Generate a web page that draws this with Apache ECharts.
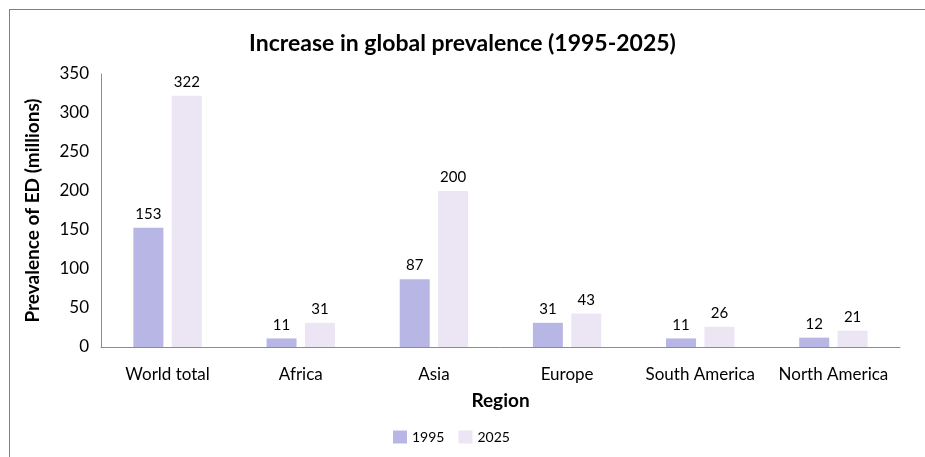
<!DOCTYPE html>
<html>
<head>
<meta charset="utf-8">
<script src="https://cdn.jsdelivr.net/npm/echarts@6/dist/echarts.min.js"></script>
<style>
  html, body { margin: 0; padding: 0; background: #fff; }
  .frame { position: absolute; left: 9px; top: 9px; width: 930px; height: 460px; border-left: 1.5px solid #7f7f7f; border-top: 1.5px solid #7f7f7f; }
  .chart { position: absolute; left: 0; top: 0; width: 925px; height: 457px; }
</style>
</head>
<body>
<div class="frame"></div>
<div class="chart"></div>
<script>
  // data
  var regions = ['World total', 'Africa', 'Asia', 'Europe', 'South America', 'North America'];
  var values1995 = [153, 11, 87, 31, 11, 12];
  var values2025 = [322, 31, 200, 43, 26, 21];
  var yTicks = { min: 0, max: 350, interval: 50 };

  var font = 'Lato, "Open Sans", sans-serif';

  var myChart = echarts.init(document.querySelector('.chart'));
  myChart.setOption({
    animation: false,
    title: {
      text: 'Increase in global prevalence (1995-2025)',
      left: 'center',
      top: 27,
      textStyle: { fontFamily: font, fontSize: 23, fontWeight: 'bold', color: '#000' }
    },
    legend: {
      bottom: 8,
      left: 388,
      itemWidth: 14,
      itemHeight: 13,
      itemGap: 14,
      icon: 'rect',
      textStyle: { fontFamily: font, fontSize: 14, color: '#000' },
      data: ['1995', '2025']
    },
    grid: { left: 101, right: 25, top: 74, bottom: 110, containLabel: false },
    xAxis: {
      type: 'category',
      data: regions,
      name: 'Region',
      nameLocation: 'middle',
      nameGap: 44,
      nameTextStyle: { fontFamily: font, fontSize: 19, fontWeight: 'bold', color: '#000' },
      axisLine: { lineStyle: { color: '#8c8c8c' } },
      axisTick: { show: false },
      axisLabel: { fontFamily: font, fontSize: 17, color: '#000', margin: 19, interval: 0 }
    },
    yAxis: {
      type: 'value',
      min: yTicks.min,
      max: yTicks.max,
      interval: yTicks.interval,
      name: 'Prevalence of ED (millions)',
      nameLocation: 'middle',
      nameGap: 59,
      nameTextStyle: { fontFamily: font, fontSize: 19, fontWeight: 'bold', color: '#000' },
      axisLine: { show: true, lineStyle: { color: '#8c8c8c' } },
      axisTick: { show: false },
      splitLine: { show: false },
      axisLabel: { fontFamily: font, fontSize: 17, color: '#000', margin: 12 }
    },
    series: [
      {
        name: '1995',
        type: 'bar',
        data: values1995,
        barWidth: 30,
        barGap: '28%',
        itemStyle: { color: '#b8b6e4' },
        label: { show: true, position: 'top', distance: 6, fontFamily: font, fontSize: 15, color: '#000' }
      },
      {
        name: '2025',
        type: 'bar',
        data: values2025,
        barWidth: 30,
        itemStyle: { color: '#ece5f4' },
        label: { show: true, position: 'top', distance: 6, fontFamily: font, fontSize: 15, color: '#000' }
      }
    ]
  });
</script>
</body>
</html>
